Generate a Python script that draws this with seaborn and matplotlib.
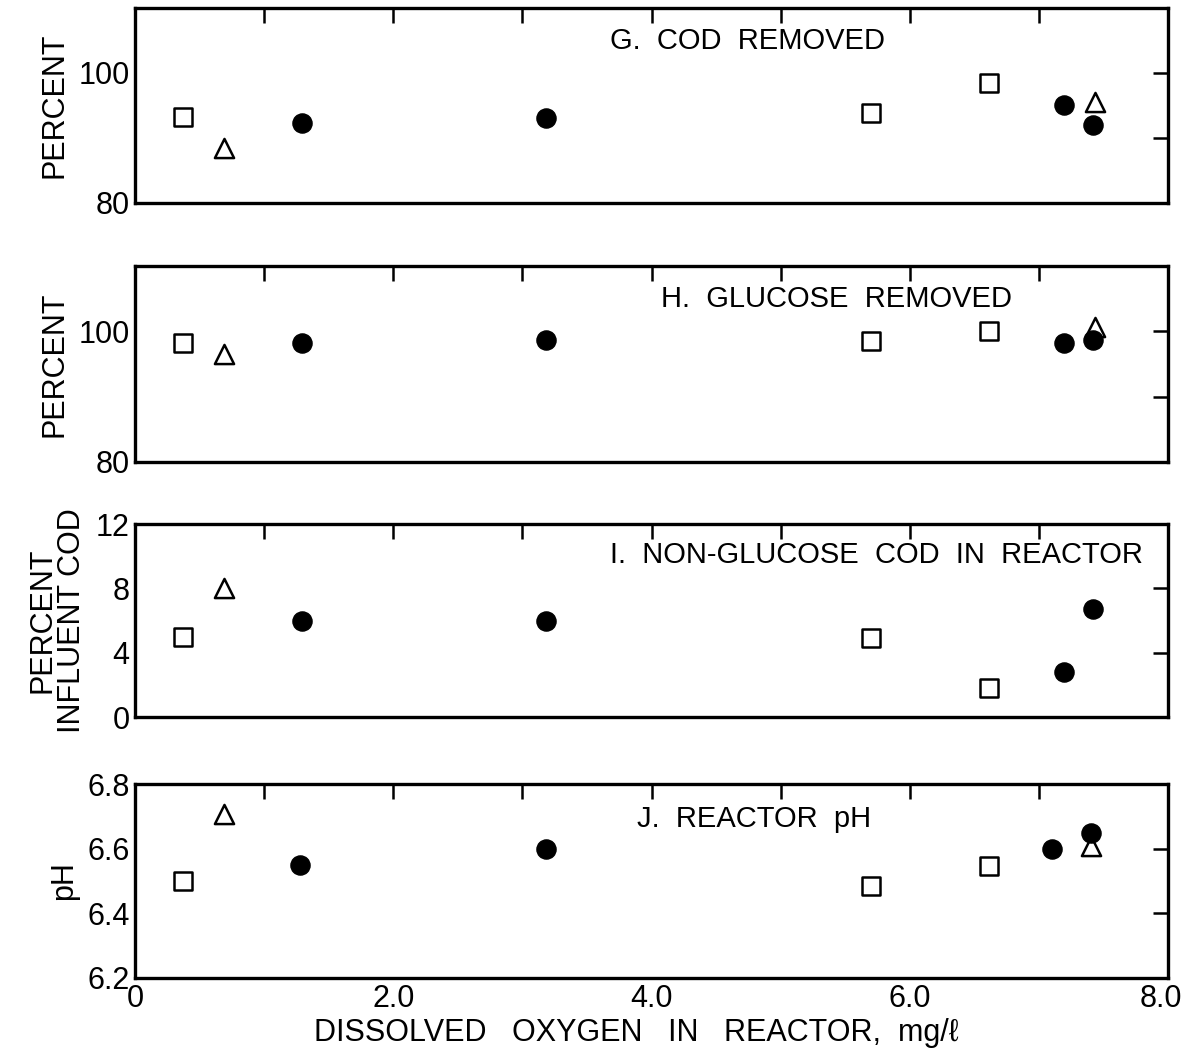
import matplotlib
matplotlib.use("Agg")
import matplotlib.pyplot as plt
import seaborn as sns
import pandas as pd

# Dissolved oxygen (mg/l) of each run, by reactor series
do_square = [0.37, 5.70, 6.61]
do_triangle = [0.69, 7.43]
do_circle = [1.29, 3.18, 7.19, 7.42]
do_circle_ph = [1.28, 3.18, 7.10, 7.40]
do_triangle_ph = [0.69, 7.40]

# G. COD removed, percent
cod_square = [93.2, 93.8, 98.5]
cod_triangle = [88.5, 95.5]
cod_circle = [92.3, 93.1, 95.1, 92.0]

# H. Glucose removed, percent
glu_square = [98.2, 98.5, 100.0]
glu_triangle = [96.6, 100.6]
glu_circle = [98.2, 98.6, 98.2, 98.6]

# I. Non-glucose COD in reactor, percent of influent COD
ngc_square = [5.0, 4.9, 1.8]
ngc_triangle = [8.0]
ngc_circle = [6.0, 6.0, 2.8, 6.7]

# J. Reactor pH
ph_square = [6.50, 6.485, 6.547]
ph_triangle = [6.708, 6.608]
ph_circle = [6.55, 6.60, 6.60, 6.649]

panel_titles = ["G.  COD  REMOVED", "H.  GLUCOSE  REMOVED",
                "I.  NON-GLUCOSE  COD  IN  REACTOR", "J.  REACTOR  pH"]
panel_ylabels = ["PERCENT", "PERCENT", "PERCENT\nINFLUENT COD", "pH"]
x_ticklabels = ["0", "2.0", "4.0", "6.0", "8.0"]


def frame(panel, do, vals, group):
    return pd.DataFrame({"do": do[:len(vals)], "value": vals,
                         "panel": panel, "group": group})


data = pd.concat([
    frame("G", do_square, cod_square, "square"),
    frame("G", do_triangle, cod_triangle, "triangle"),
    frame("G", do_circle, cod_circle, "circle"),
    frame("H", do_square, glu_square, "square"),
    frame("H", do_triangle, glu_triangle, "triangle"),
    frame("H", do_circle, glu_circle, "circle"),
    frame("I", do_square, ngc_square, "square"),
    frame("I", do_triangle, ngc_triangle, "triangle"),
    frame("I", do_circle, ngc_circle, "circle"),
    frame("J", do_square, ph_square, "square"),
    frame("J", do_triangle_ph, ph_triangle, "triangle"),
    frame("J", do_circle_ph, ph_circle, "circle"),
], ignore_index=True)

sns.set_style("white")
plt.rcParams["font.family"] = ["Liberation Sans Narrow", "Liberation Sans", "DejaVu Sans"]
plt.rcParams["font.size"] = 22
plt.rcParams["text.color"] = "black"
plt.rcParams["axes.labelcolor"] = "black"
plt.rcParams["xtick.color"] = "black"
plt.rcParams["ytick.color"] = "black"

fig = plt.figure(figsize=(11.86, 10.48), dpi=100)

# panel boxes in figure fractions: (bottom, top)
boxes = [(0.8063, 0.9924), (0.5592, 0.7462), (0.3158, 0.5000), (0.0668, 0.2519)]
left, right = 0.1138, 0.985

ylims = [(80, 110), (80, 110), (0, 12), (6.2, 6.8)]
yticks = [[80, 90, 100, 110], [80, 90, 100, 110], [0, 4, 8, 12], [6.2, 6.4, 6.6, 6.8]]
ytlabels = [["80", "", "100", ""], ["80", "", "100", ""],
            ["0", "4", "8", "12"], ["6.2", "6.4", "6.6", "6.8"]]
title_x = [3.68, 4.07, 3.68, 3.89]
title_y = [0.83, 0.83, 0.84, 0.82]

marker_style = {
    "square": dict(marker="s", s=150, facecolor="white", edgecolor="black", linewidth=1.8),
    "triangle": dict(marker="^", s=190, facecolor="white", edgecolor="black", linewidth=1.8),
    "circle": dict(marker="o", s=190, facecolor="black", edgecolor="black", linewidth=1.0),
}

for i, panel in enumerate(["G", "H", "I", "J"]):
    b, t = boxes[i]
    ax = fig.add_axes([left, b, right - left, t - b])
    sub = data[data["panel"] == panel]
    for group, kw in marker_style.items():
        g = sub[sub["group"] == group]
        sns.scatterplot(data=g, x="do", y="value", ax=ax, legend=False, zorder=3, **kw)
    ax.set_xlim(0, 8)
    ax.set_ylim(*ylims[i])
    ax.set_xticks(range(0, 9))
    if i == 3:
        # the right-most label sits a little inside the frame so it stays on the page
        labels = [x_ticklabels[k // 2] if k % 2 == 0 else "" for k in range(9)]
        ax.set_xticklabels(labels[:-1] + [""])
        ax.annotate(x_ticklabels[-1], xy=(8, 0), xycoords=ax.get_xaxis_transform(),
                    xytext=(-5, -4), textcoords="offset points",
                    ha="center", va="top", fontsize=22)
        ax.set_xlabel("DISSOLVED   OXYGEN   IN   REACTOR,  mg/ℓ", va="top")
        ax.xaxis.set_label_coords(0.485, -0.205)
    else:
        ax.set_xticklabels([])
        ax.set_xlabel("")
    ax.set_yticks(yticks[i])
    ax.set_yticklabels(ytlabels[i])
    ax.set_ylabel(panel_ylabels[i], linespacing=1.0, labelpad=6)
    ax.tick_params(direction="in", length=11, width=1.8, top=True, right=True,
                   labelsize=22, pad=4, color="black")
    for sp in ax.spines.values():
        sp.set_linewidth(2.4)
        sp.set_color("black")
        sp.set_visible(True)
    ax.text(title_x[i], title_y[i], panel_titles[i], transform=ax.get_xaxis_transform(),
            fontsize=21, ha="left", va="center")

fig.savefig("out.png", dpi=100, facecolor="white")
